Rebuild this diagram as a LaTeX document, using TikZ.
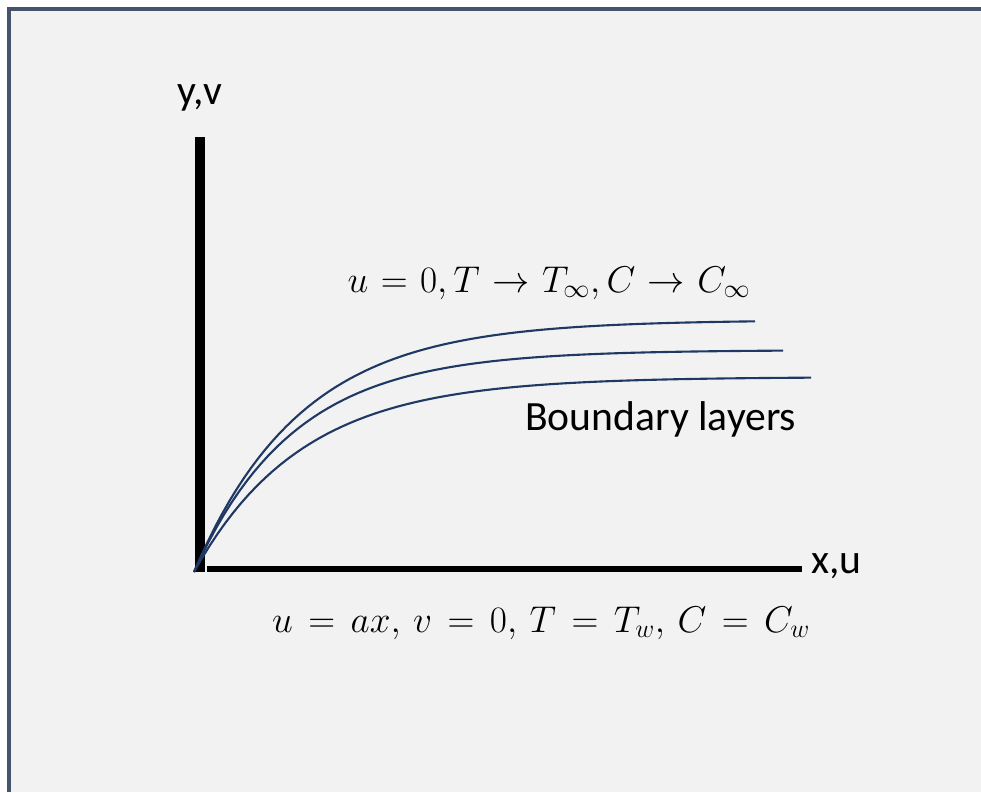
\RequirePackage{fix-cm}
\documentclass[tikz,border=0pt]{standalone}
\usepackage{amsmath}
\usepackage{fontspec}
\setmainfont{Carlito}
\usetikzlibrary{positioning}

\definecolor{frameblue}{RGB}{68,84,106}
\definecolor{layerblue}{RGB}{31,56,100}
\definecolor{panelgray}{RGB}{242,242,242}

\begin{document}
\begin{tikzpicture}[
        x=0.025cm, y=-0.025cm,
        axis/.style={draw=black, line width=7pt},
        layer/.style={draw=layerblue, line width=1.5pt},
        txt/.style={inner sep=0pt, font=\fontsize{29.6}{35}\selectfont},
        eqn/.style={inner sep=0pt, font=\fontsize{26.5}{31}\selectfont}
    ]

    \useasboundingbox (0,0) rectangle (981,792);
    \fill[panelgray] (9,9) rectangle (981,792);
    \draw[frameblue, line width=2.2pt] (9,792) -- (9,9) -- (981,9);

    % axes
    \coordinate (origin) at (200,572);
    \coordinate (ytop) at (200,137);
    \coordinate (xstart) at (207,569);
    \coordinate (xend) at (802,569);
    \draw[axis] (origin) -- (ytop);
    \draw[axis, line width=4.3pt] (xstart) -- (xend);

    \node[txt, anchor=base] (ylabel) at (200,104) {y,v};
    \node[txt, anchor=base west] (xlabel) at (811,573) {x,u};

    % boundary layers
    \draw[layer] plot[domain=0:561, samples=80] ({194+\x}, {572-252*(1-exp(-\x/107))});
    \draw[layer] plot[domain=0:589, samples=80] ({194+\x}, {572-222*(1-exp(-\x/100))});
    \draw[layer] plot[domain=0:617, samples=80] ({194+\x}, {572-195*(1-exp(-\x/108))});

    \node[txt, anchor=base west] (layers) at (525,430) {Boundary layers};

    % conditions
    \node[eqn, anchor=base] (farfield) at (549,292) {\thickmuskip=6mu plus 2mu $u = 0, T \to T_\infty, C \to C_\infty$};
    \node[eqn, anchor=base] (wall) at (541,632) {\thickmuskip=7.5mu plus 2mu $u = ax,\, v = 0,\, T = T_w,\, C = C_w$};

\end{tikzpicture}
\end{document}
